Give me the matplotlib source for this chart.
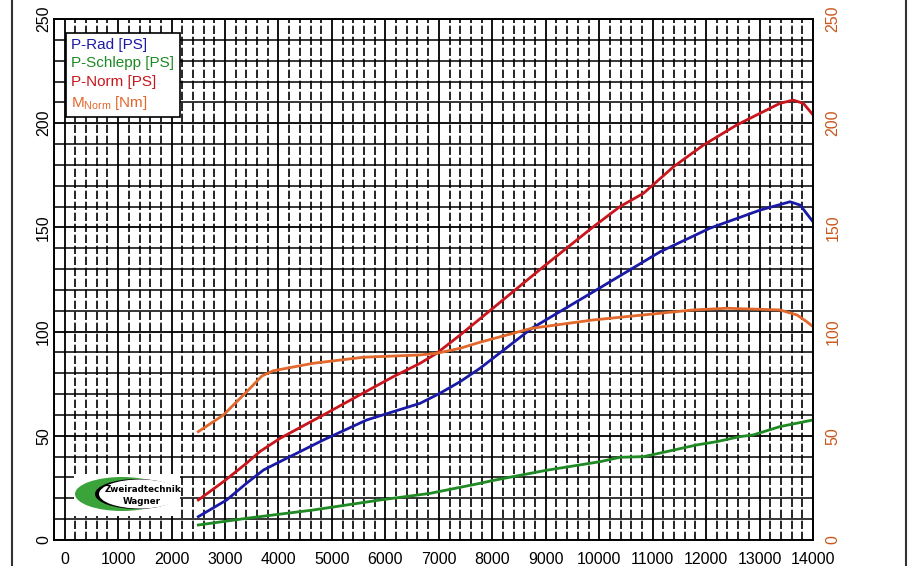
import matplotlib
matplotlib.use("Agg")
import matplotlib.pyplot as plt
from matplotlib.lines import Line2D
from matplotlib.patches import Ellipse, Rectangle

plt.rcParams['font.family'] = ['Liberation Sans', 'DejaVu Sans']

# ---- data ----
rpm_rad = [2500, 3030, 3400, 3720, 4090, 4840, 5650, 6650, 7020, 7400, 7770,
           8740, 9890, 11140, 12070, 13010, 13570, 13760, 14000]
p_rad = [11.2, 19.2, 27.2, 33.6, 38.4, 48.0, 57.6, 65.6, 70.4, 76.0, 82.4,
         101.6, 119.1, 138.3, 149.6, 158.3, 162.3, 160.7, 152.7]

rpm_schlepp = [2500, 3400, 4650, 5900, 6840, 7770, 8000, 9000, 10020, 10390,
               10830, 11260, 11820, 12200, 12630, 12880, 13380, 14000]
p_schlepp = [7.2, 10.4, 14.4, 19.2, 22.4, 27.2, 28.5, 33.4, 37.6, 39.7,
             40.0, 42.4, 45.6, 47.2, 49.6, 50.4, 54.4, 57.6]

rpm_norm = [2500, 2970, 3400, 3650, 4030, 4840, 5520, 6150, 6650, 6960, 7400,
            7930, 8950, 9890, 10390, 10830, 11390, 11950, 12570, 12880, 13380,
            13630, 13820, 14000]
p_norm = [19.2, 28.0, 36.8, 42.4, 48.8, 60.0, 69.6, 78.4, 84.8, 89.6, 98.4,
          109.5, 131.0, 150.3, 160.0, 166.4, 179.1, 189.5, 199.1, 203.1, 209.5,
          211.1, 209.5, 204.0]

rpm_m = [2500, 2970, 3400, 3690, 3900, 4650, 5590, 6650, 6960, 7400, 7770,
         8740, 9890, 10830, 11760, 12390, 13380, 13700, 13880, 14000]
m_norm = [52.0, 60.0, 71.0, 78.7, 81.2, 84.8, 87.7, 88.8, 89.6, 92.0, 94.9,
          101.6, 105.6, 108.0, 110.4, 111.2, 110.4, 108.0, 104.8, 102.4]

x_ticks = list(range(0, 14001, 1000))
y_ticks = [0, 50, 100, 150, 200, 250]
legend_labels = ['P-Rad [PS]', 'P-Schlepp [PS]', 'P-Norm [PS]', r'M$_{\mathregular{Norm}}$ [Nm]']

c_blue = '#1a1aa6'
c_green = '#1f8a24'
c_red = '#c8161c'
c_orange = '#e2682c'
c_orange_lbl = '#c8581c'

fig = plt.figure(figsize=(9.2, 5.66), dpi=100)
ax = fig.add_axes([54/920, 1-540/566, 759/920, 521/566])

ax.set_xlim(-200, 14000)
ax.set_ylim(0, 250)

# grid
ax.set_xticks(x_ticks)
ax.set_xticks(list(range(-200, 14001, 200)), minor=True)
ax.set_yticks(y_ticks)
ax.set_yticks(list(range(0, 251, 10)), minor=True)
ax.grid(True, which='major', axis='both', color='black', lw=1.3, ls='-')
ax.grid(True, which='minor', axis='x', color='black', lw=1.2, ls=(0, (5, 1.6)))
ax.grid(True, which='minor', axis='y', color='black', lw=1.1, ls='-')
ax.set_axisbelow(True)
for s in ax.spines.values():
    s.set_color('black')
    s.set_linewidth(1.4)

ax.tick_params(axis='both', which='both', length=0)
ax.tick_params(axis='x', pad=9, labelsize=11.5)
ax.tick_params(axis='y', pad=2, labelsize=11.5)
for t in ax.get_yticklabels():
    t.set_rotation(90)
    t.set_va('center')

lw = 2.0
l1, = ax.plot(rpm_rad, p_rad, color=c_blue, lw=lw)
l2, = ax.plot(rpm_schlepp, p_schlepp, color=c_green, lw=lw)
l3, = ax.plot(rpm_norm, p_norm, color=c_red, lw=lw)
l4, = ax.plot(rpm_m, m_norm, color=c_orange, lw=lw)

ax2 = ax.twinx()
ax2.set_ylim(0, 250)
ax2.set_yticks(y_ticks)
ax2.tick_params(axis='y', length=0, pad=9, labelsize=11.5, labelcolor=c_orange_lbl)
for t in ax2.get_yticklabels():
    t.set_rotation(90)
    t.set_va('center')
for s in ax2.spines.values():
    s.set_visible(False)

# legend (text only)
leg = ax.legend([l1, l2, l3, l4], legend_labels, loc='upper left',
                bbox_to_anchor=(0.0158, 0.974), borderaxespad=0,
                handlelength=0, handletextpad=0, fontsize=11,
                labelspacing=0.3, borderpad=0.35, fancybox=False,
                framealpha=1, edgecolor='black',
                labelcolor=[c_blue, c_green, c_red, c_orange])
leg.get_frame().set_linewidth(1.2)
for h in leg.legend_handles:
    h.set_visible(False)

# logo
def fx(px):
    return (px - 54) / 759
def fy(py):
    return (540 - py) / 521
ax.add_patch(Rectangle((fx(74), fy(516)), fx(180) - fx(74), fy(474) - fy(516),
                       transform=ax.transAxes, facecolor='white', edgecolor='none', zorder=3))
ax.add_patch(Ellipse((fx(122), fy(494)), 94/759, 34/521, transform=ax.transAxes,
                     facecolor='#3aa33a', edgecolor='none', zorder=4))
ax.add_patch(Ellipse((fx(137), fy(494)), 84/759, 30/521, transform=ax.transAxes,
                     facecolor='black', edgecolor='none', zorder=4))
ax.add_patch(Ellipse((fx(140), fy(494)), 82/759, 29/521, transform=ax.transAxes,
                     facecolor='white', edgecolor='none', zorder=4))
ax.text(fx(143), fy(489), 'Zweiradtechnik', transform=ax.transAxes, ha='center', va='center',
        fontsize=6.3, fontweight='bold', family='DejaVu Sans', zorder=5)
ax.text(fx(142), fy(501), 'Wagner', transform=ax.transAxes, ha='center', va='center',
        fontsize=6.3, fontweight='bold', family='DejaVu Sans', zorder=5)

# outer frame lines
fig.add_artist(Line2D([12/920, 12/920], [0, 1], color='#333333', lw=1.5))
fig.add_artist(Line2D([906/920, 906/920], [0, 1], color='#333333', lw=1.5))

fig.savefig('out.png', dpi=100, facecolor='white')
